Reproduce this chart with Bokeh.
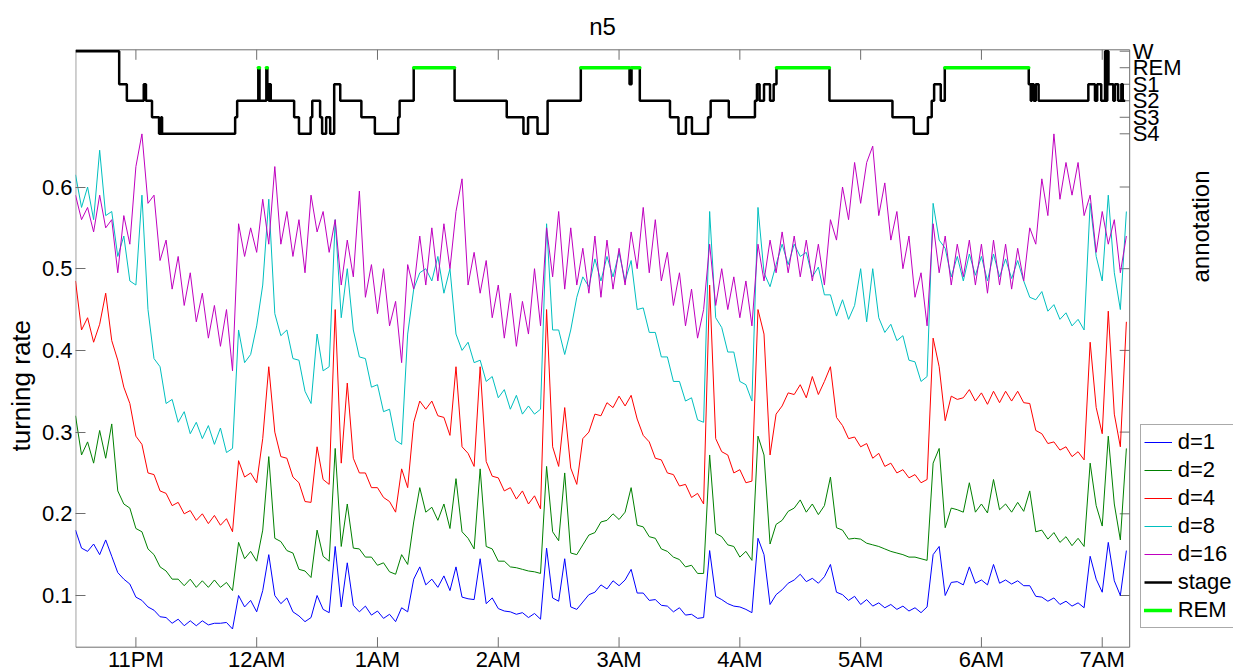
import math
from bokeh.plotting import figure
from bokeh.models import Range1d, FixedTicker, Legend, LegendItem, Title
from bokeh.core.properties import value
from bokeh.embed import file_html
from bokeh.resources import INLINE

# ---------------- data ----------------
START_HOUR = 22.5            # 10:30 PM (24 = midnight)
minutes = list(range(0, 523, 3))   # sample times, minutes after 10:30 PM

d1 = [.180,.158,.154,.163,.150,.168,.148,.128,.120,.114,
      .098,.094,.086,.082,.074,.073,.066,.071,.063,.069,
      .063,.069,.064,.066,.066,.067,.059,.100,.086,.094,
      .080,.106,.150,.100,.090,.097,.080,.075,.068,.073,
      .100,.083,.079,.160,.086,.140,.088,.080,.087,.076,
      .081,.072,.077,.068,.085,.080,.120,.135,.113,.120,
      .110,.124,.106,.135,.098,.096,.095,.145,.090,.097,
      .084,.081,.080,.077,.079,.073,.078,.071,.158,.097,
      .093,.145,.086,.083,.092,.101,.104,.113,.108,.118,
      .112,.119,.132,.103,.103,.094,.095,.088,.087,.080,
      .085,.076,.077,.072,.073,.155,.099,.095,.090,.087,
      .086,.083,.079,.170,.150,.089,.101,.107,.115,.119,
      .126,.117,.121,.115,.123,.138,.104,.101,.094,.099,
      .089,.095,.087,.091,.085,.089,.083,.087,.081,.085,
      .079,.086,.150,.160,.100,.116,.117,.113,.135,.115,
      .119,.113,.138,.115,.119,.114,.118,.112,.112,.099,
      .098,.093,.097,.089,.093,.087,.091,.085,.148,.120,
      .104,.165,.118,.100,.155]

d2 = [.320,.272,.288,.262,.302,.268,.310,.228,.212,.207,
      .182,.178,.157,.150,.135,.130,.120,.120,.112,.120,
      .110,.118,.110,.119,.110,.116,.106,.165,.145,.154,
      .142,.180,.270,.170,.166,.155,.152,.132,.130,.122,
      .180,.148,.142,.280,.160,.212,.158,.157,.147,.147,
      .137,.140,.129,.126,.150,.138,.190,.232,.202,.208,
      .192,.212,.182,.243,.178,.170,.157,.255,.160,.157,
      .142,.142,.135,.134,.132,.130,.129,.127,.258,.178,
      .167,.250,.152,.150,.162,.174,.177,.190,.192,.200,
      .193,.202,.232,.186,.184,.172,.170,.157,.154,.147,
      .144,.135,.137,.127,.127,.272,.176,.172,.162,.160,
      .147,.154,.143,.295,.272,.163,.187,.192,.203,.207,
      .217,.202,.212,.199,.210,.245,.183,.180,.169,.170,
      .169,.164,.162,.160,.157,.154,.152,.150,.147,.147,
      .145,.143,.262,.280,.183,.207,.205,.202,.238,.202,
      .212,.201,.242,.205,.212,.202,.214,.203,.228,.178,
      .180,.169,.177,.165,.172,.161,.170,.160,.262,.210,
      .185,.295,.212,.168,.280]

d4 = [.485,.425,.440,.410,.432,.470,.412,.388,.355,.335,
      .295,.285,.250,.248,.228,.225,.210,.214,.200,.204,
      .192,.200,.188,.198,.186,.194,.178,.265,.245,.250,
      .238,.292,.380,.300,.270,.268,.245,.238,.215,.214,
      .282,.242,.236,.450,.262,.360,.268,.250,.250,.232,
      .232,.220,.215,.202,.255,.232,.312,.338,.328,.338,
      .320,.318,.296,.380,.282,.274,.258,.380,.264,.246,
      .244,.228,.232,.218,.228,.212,.222,.206,.450,.282,
      .258,.330,.256,.236,.292,.300,.322,.320,.336,.330,
      .344,.332,.345,.316,.296,.288,.268,.266,.250,.248,
      .234,.236,.220,.225,.212,.480,.292,.276,.272,.250,
      .254,.238,.240,.450,.420,.272,.322,.332,.348,.346,
      .358,.342,.368,.346,.362,.380,.318,.308,.292,.294,
      .282,.286,.268,.274,.258,.262,.250,.254,.244,.248,
      .238,.242,.415,.380,.314,.344,.340,.342,.352,.338,
      .348,.334,.350,.336,.350,.338,.350,.336,.335,.302,
      .298,.286,.288,.278,.282,.270,.276,.266,.410,.330,
      .298,.448,.322,.282,.435]

d8 = [.615,.575,.600,.560,.645,.565,.570,.515,.540,.485,
      .480,.590,.450,.390,.380,.335,.340,.312,.325,.298,
      .312,.292,.308,.285,.305,.275,.280,.425,.385,.395,
      .430,.480,.585,.445,.418,.425,.390,.388,.350,.335,
      .420,.375,.380,.560,.440,.500,.425,.392,.390,.355,
      .358,.325,.328,.290,.285,.420,.475,.495,.500,.485,
      .515,.470,.500,.420,.400,.410,.385,.388,.362,.368,
      .342,.352,.328,.345,.322,.332,.322,.328,.555,.425,
      .425,.395,.425,.465,.490,.478,.512,.485,.515,.490,
      .520,.485,.510,.450,.452,.422,.422,.392,.392,.362,
      .362,.338,.342,.315,.312,.570,.440,.428,.398,.398,
      .362,.358,.338,.575,.495,.478,.505,.530,.505,.530,
      .515,.520,.490,.502,.468,.468,.442,.462,.438,.455,
      .500,.435,.500,.440,.422,.432,.412,.418,.388,.386,
      .362,.368,.580,.535,.525,.490,.515,.485,.518,.492,
      .515,.485,.518,.490,.512,.488,.510,.485,.465,.462,
      .472,.448,.456,.438,.446,.430,.438,.425,.580,.515,
      .485,.590,.495,.450,.570]

d16 = [.590,.560,.575,.545,.590,.550,.560,.495,.565,.530,
       .625,.665,.580,.590,.510,.535,.475,.515,.455,.495,
       .435,.470,.415,.455,.405,.450,.375,.555,.515,.550,
       .520,.585,.530,.625,.530,.570,.515,.560,.495,.590,
       .545,.570,.520,.560,.480,.535,.490,.595,.465,.505,
       .445,.500,.430,.460,.385,.505,.475,.540,.480,.550,
       .485,.555,.500,.570,.610,.480,.520,.470,.510,.440,
       .480,.415,.470,.405,.460,.420,.500,.430,.550,.490,
       .570,.475,.550,.480,.525,.470,.540,.465,.535,.475,
       .525,.480,.545,.500,.575,.495,.560,.485,.520,.455,
       .495,.430,.475,.415,.450,.530,.455,.500,.450,.490,
       .440,.485,.430,.530,.485,.535,.495,.545,.495,.540,
       .490,.535,.485,.530,.480,.560,.535,.600,.560,.630,
       .580,.630,.650,.565,.605,.535,.570,.500,.540,.465,
       .495,.430,.555,.495,.540,.480,.530,.490,.535,.480,
       .530,.470,.535,.480,.530,.475,.525,.485,.550,.530,
       .610,.565,.665,.585,.630,.590,.630,.565,.590,.520,
       .570,.530,.560,.495,.540]

# hypnogram: minute at which each stage starts (last entry = end of record)
stage_min = [0, 21.7, 25.5, 33.9, 35.0, 38.0, 41.5, 42.5, 43.0, 79.3,
             80.3, 90.8, 91.4, 94.8, 95.3, 96.0, 96.5, 97.0, 108.6, 111.0,
             116.8, 117.6, 121.5, 122.5, 124.5, 126.5, 128.5, 131.5, 142.0, 148.7,
             160.3, 161.0, 168.0, 188.3, 214.2, 222.5, 224.8, 229.5, 234.5, 251.0,
             275.2, 276.2, 280.3, 295.3, 299.5, 303.2, 306.2, 314.2, 315.5, 324.5,
             337.5, 338.5, 339.8, 342.0, 345.0, 346.8, 348.2, 374.5, 405.8, 416.4,
             423.4, 425.3, 426.5, 429.8, 431.8, 473.5, 474.5, 475.0, 476.0, 477.0,
             478.4, 503.1, 506.4, 507.5, 509.5, 511.4, 512.0, 512.5, 513.1, 515.5,
             516.3, 517.9, 519.5, 520.2, 521.4]
stage_code = ["W", "S1", "S2", "S1", "S2", "S3", "S4", "S3", "S4", "S3",
              "S2", "REM", "S2", "REM", "S1", "S2", "S1", "S2", "S3", "S4",
              "S3", "S2", "S3", "S4", "S3", "S4", "S1", "S2", "S3", "S4",
              "S3", "S2", "REM", "S2", "S3", "S4", "S3", "S4", "S2", "REM",
              "S1", "REM", "S2", "S3", "S4", "S3", "S4", "S3", "S2", "S3",
              "S2", "S1", "S2", "S1", "S2", "S1", "REM", "S2", "S3", "S4",
              "S3", "S2", "S1", "S2", "REM", "S1", "S2", "S1", "S2", "S1",
              "S2", "S1", "S2", "S1", "S2", "W", "S2", "W", "S1", "S2",
              "S1", "S2", "S1", "S2", "S2"]
stage_labels = ["S4", "S3", "S2", "S1", "REM", "W"]

hour_ticks = [23, 24, 25, 26, 27, 28, 29, 30, 31]
hour_labels = ["11PM", "12AM", "1AM", "2AM", "3AM", "4AM", "5AM", "6AM", "7AM"]
rate_ticks = [0.1, 0.2, 0.3, 0.4, 0.5, 0.6]

series_names = ["d=1", "d=2", "d=4", "d=8", "d=16"]
series_values = [d1, d2, d4, d8, d16]
series_colors = ["#0000ff", "#008000", "#ff0000", "#00bfbf", "#bf00bf"]

# ---------------- layout helpers (pixel geometry of the page) ----------------
FONT = "Liberation Sans"
AX = "#6e6e6e"
W, H = 1233, 672
FRAME_LEFT = 73                 # page x of plot frame's left edge
PX_PER_H = 121.0                # pixels per hour on x
PX_PER_RATE = 817.0             # pixels per unit of turning rate
Y01_PX = 595.0                  # page y of turning rate 0.1
PX_PER_STAGE = 16.52
S4_PX = 133.3                   # page y of stage S4


def xv(px):                     # page x -> hours
    return START_HOUR + (px - FRAME_LEFT) / PX_PER_H


def yv(py):                     # page y -> turning rate
    return 0.1 + (Y01_PX - py) / PX_PER_RATE


def sv(py):                     # page y -> stage value
    return (S4_PX - py) / PX_PER_STAGE


BOX_L, BOX_R = xv(73.3), xv(1129)
BOX_T, BOX_B = yv(49.3), yv(646.7)
TICK_X = 10 / PX_PER_H
TICK_Y = 10 / PX_PER_RATE

p = figure(width=W, height=H, output_backend="svg", toolbar_location=None,
           x_range=Range1d(xv(FRAME_LEFT), xv(W)), y_range=Range1d(yv(H), yv(0)),
           min_border_left=FRAME_LEFT, min_border_right=0, min_border_top=0,
           min_border_bottom=0, x_axis_location=None, title_location=None)
p.extra_y_ranges = {"stage": Range1d(sv(H), sv(0))}
p.xgrid.visible = False
p.ygrid.visible = False
p.outline_line_color = None
p.background_fill_color = "white"
p.border_fill_color = "white"

ya = p.yaxis[0]
ya.ticker = FixedTicker(ticks=rate_ticks)
ya.axis_line_color = None
ya.major_tick_line_color = AX
ya.major_tick_in = 10
ya.major_tick_out = 0
ya.minor_tick_line_color = None
ya.major_label_text_font = FONT
ya.major_label_text_font_size = "22px"
ya.major_label_text_color = "black"
ya.major_label_standoff = 3

p.add_layout(Title(text="turning rate", align="left", offset=221, text_font=FONT,
                   text_font_size="26px", text_font_style="normal",
                   text_color="black", standoff=6), "left")

# plot box and mirrored ticks
p.segment(x0=[BOX_L, BOX_L, BOX_L, BOX_R], y0=[BOX_B, BOX_T, BOX_B, BOX_B],
          x1=[BOX_R, BOX_R, BOX_L, BOX_R], y1=[BOX_B, BOX_T, BOX_T, BOX_T],
          line_color=AX, line_width=1)
p.segment(x0=hour_ticks, x1=hour_ticks, y0=[BOX_B] * len(hour_ticks),
          y1=[BOX_B + TICK_Y] * len(hour_ticks), line_color=AX)
p.segment(x0=hour_ticks, x1=hour_ticks, y0=[BOX_T] * len(hour_ticks),
          y1=[BOX_T - TICK_Y] * len(hour_ticks), line_color=AX)
p.segment(x0=[BOX_R - TICK_X] * len(rate_ticks), x1=[BOX_R] * len(rate_ticks),
          y0=rate_ticks, y1=rate_ticks, line_color=AX)
stage_levels = list(range(len(stage_labels)))
p.segment(x0=[BOX_R - TICK_X] * len(stage_levels), x1=[BOX_R] * len(stage_levels),
          y0=stage_levels, y1=stage_levels, line_color=AX, y_range_name="stage")

# tick labels and texts
p.text(x=hour_ticks, y=[yv(658.5)] * len(hour_ticks), text=hour_labels,
       text_font=value(FONT), text_font_size=value("22px"), text_color="black",
       text_align="center", text_baseline="middle")
p.text(x=[BOX_R + 3 / PX_PER_H] * len(stage_levels), y=stage_levels, text=stage_labels,
       y_range_name="stage", text_font=value(FONT), text_font_size=value("22px"),
       text_color="black", text_align="left", text_baseline="middle")
p.text(x=[xv(601)], y=[yv(25.5)], text=["n5"], text_font=value(FONT),
       text_font_size=value("24px"), text_color="black", text_align="center",
       text_baseline="middle")
p.text(x=[xv(1200)], y=[yv(226)], text=["annotation"], angle=math.pi / 2,
       text_font=value(FONT), text_font_size=value("24px"), text_color="black",
       text_align="center", text_baseline="middle")

# series
hours = [START_HOUR + m / 60.0 for m in minutes]
renderers = []
for name, vals, col in zip(series_names, series_values, series_colors):
    renderers.append(p.line(hours, vals, line_color=col, line_width=1))

# hypnogram
stage_num = {lab: i for i, lab in enumerate(stage_labels)}
st_hours = [START_HOUR + m / 60.0 for m in stage_min]
st_vals = [stage_num[c] for c in stage_code]
r_stage = p.step(st_hours, st_vals, mode="after", y_range_name="stage",
                 line_color="black", line_width=2.5)

rem_x0, rem_x1, rem_y = [], [], []
for i in range(len(stage_code) - 1):
    if stage_code[i] == "REM":
        rem_x0.append(st_hours[i])
        rem_x1.append(st_hours[i + 1])
        rem_y.append(stage_num["REM"])
r_rem = p.segment(x0=rem_x0, y0=rem_y, x1=rem_x1, y1=rem_y, y_range_name="stage",
                  line_color="#00ff00", line_width=3.5, line_cap="round")

items = [LegendItem(label=n, renderers=[r]) for n, r in zip(series_names, renderers)]
items.append(LegendItem(label="stage", renderers=[r_stage]))
items.append(LegendItem(label="REM", renderers=[r_rem]))
legend = Legend(items=items, location=(1137.7 - FRAME_LEFT, H - 627.7),
                orientation="vertical", glyph_width=28, glyph_height=28,
                label_height=28, label_width=62, spacing=0, padding=3, margin=0,
                label_standoff=6, label_text_font=FONT, label_text_font_size="22px",
                label_text_color="black", border_line_color="#555555",
                border_line_width=1, background_fill_color="white",
                background_fill_alpha=1.0)
p.add_layout(legend)

open("out.html", "w").write(file_html(p, INLINE))
